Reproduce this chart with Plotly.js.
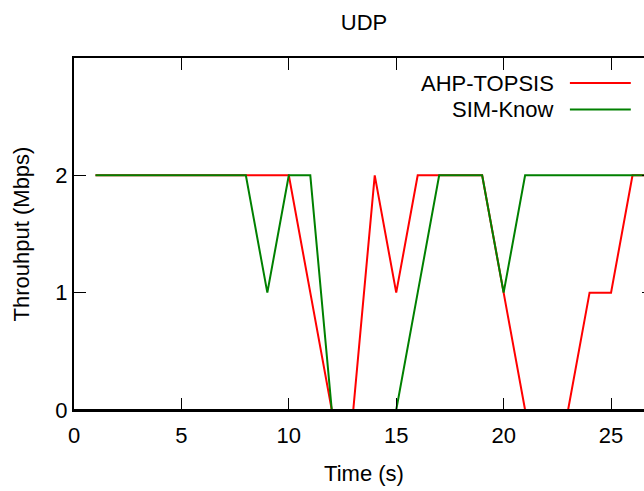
<!DOCTYPE html>
<html>
<head>
<meta charset="utf-8">
<script src="https://cdn.plot.ly/plotly-3.0.1.min.js"></script>
<style>
html, body { margin: 0; padding: 0; overflow: hidden; background: #ffffff; }
#chart { width: 710px; height: 491px; }
</style>
</head>
<body>
<div id="chart"></div>
<script>
// Data
const timeS = [1, 2, 3, 4, 5, 6, 7, 8, 9, 10, 11, 12, 13, 14, 15, 16, 17, 18, 19, 20, 21, 22, 23, 24, 25, 26, 27];
const ahpTopsis = [2, 2, 2, 2, 2, 2, 2, 2, 2, 2, 1, 0, 0, 2, 1, 2, 2, 2, 2, 1, 0, 0, 0, 1, 1, 2, 2];
const simKnow   = [2, 2, 2, 2, 2, 2, 2, 2, 1, 2, 2, 0, 0, 0, 0, 1, 2, 2, 2, 1, 2, 2, 2, 2, 2, 2, 2];
const seriesNames = ['AHP-TOPSIS', 'SIM-Know'];
const xTicks = [0, 5, 10, 15, 20, 25];
const yTicks = [0, 1, 2];

const FONT = 'Liberation Sans, Arial, Helvetica, sans-serif';
const FS = 22;
const colors = ['#ff0000', '#008000'];

const traces = [
  { x: timeS, y: ahpTopsis, name: seriesNames[0], mode: 'lines',
    line: { color: colors[0], width: 2 }, showlegend: false },
  { x: timeS, y: simKnow, name: seriesNames[1], mode: 'lines',
    line: { color: colors[1], width: 2 }, showlegend: false }
];

const axisCommon = {
  showline: true, linecolor: '#000000', linewidth: 2,
  ticks: 'inside', ticklen: 12, tickwidth: 1, tickcolor: '#000000',
  mirror: 'allticks', showgrid: false, zeroline: false,
  tickfont: { family: FONT, size: FS, color: '#000000' }
};

const layout = {
  width: 710, height: 491,
  margin: { l: 74, r: 56, t: 58, b: 81 },
  paper_bgcolor: '#ffffff', plot_bgcolor: '#ffffff',
  font: { family: FONT, size: FS, color: '#000000' },
  title: { text: 'UDP', x: 0.5, xref: 'paper', xanchor: 'center',
           y: 0.955, yref: 'container', yanchor: 'middle',
           font: { family: FONT, size: FS, color: '#000000' } },
  xaxis: Object.assign({}, axisCommon, {
    range: [0, 27], tickvals: xTicks, ticktext: xTicks.map(String),
    ticklabelstandoff: 5,
    title: { text: 'Time (s)', standoff: 18, font: { family: FONT, size: FS } }
  }),
  yaxis: Object.assign({}, axisCommon, {
    range: [0, 3], tickvals: yTicks, ticktext: yTicks.map(String),
    title: { text: 'Throuhput (Mbps)', standoff: 20, font: { family: FONT, size: FS } }
  }),
  annotations: [
    { text: seriesNames[0], xref: 'paper', yref: 'paper', x: 0.831, y: 0.9276,
      xanchor: 'right', yanchor: 'middle', showarrow: false,
      font: { family: FONT, size: FS, color: '#000000' } },
    { text: seriesNames[1], xref: 'paper', yref: 'paper', x: 0.831, y: 0.855,
      xanchor: 'right', yanchor: 'middle', showarrow: false,
      font: { family: FONT, size: FS, color: '#000000' } }
  ],
  shapes: [
    { type: 'line', xref: 'paper', yref: 'paper', x0: 0.855, x1: 0.960, y0: 0.929, y1: 0.929,
      line: { color: colors[0], width: 2 } },
    { type: 'line', xref: 'paper', yref: 'paper', x0: 0.855, x1: 0.960, y0: 0.854, y1: 0.854,
      line: { color: colors[1], width: 2 } },
    { type: 'line', xref: 'paper', yref: 'paper', x0: 0, x1: 1, y0: 0, y1: 0, layer: 'above',
      line: { color: '#000000', width: 2 } }
  ]
};

Plotly.newPlot('chart', traces, layout, { displayModeBar: false, staticPlot: true });
</script>
</body>
</html>
